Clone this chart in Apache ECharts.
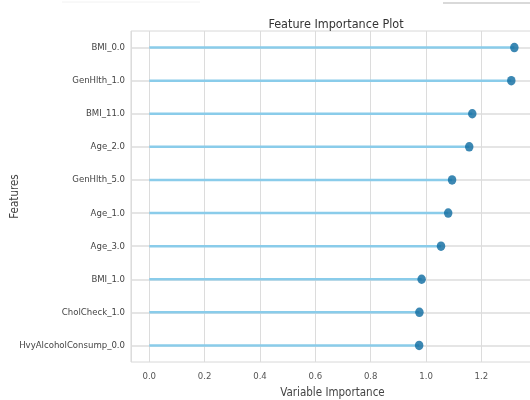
<!DOCTYPE html>
<html>
<head>
<meta charset="utf-8">
<script src="https://cdn.jsdelivr.net/npm/echarts@6/dist/echarts.min.js"></script>
<style>html,body{margin:0;padding:0;background:#fff;}#c{width:530px;height:400px;}</style>
</head>
<body>
<div id="c"></div>
<script>
const features = ['BMI_0.0','GenHlth_1.0','BMI_11.0','Age_2.0','GenHlth_5.0','Age_1.0','Age_3.0','BMI_1.0','CholCheck_1.0','HvyAlcoholConsump_0.0'];
const importance = [1.319, 1.308, 1.167, 1.156, 1.094, 1.080, 1.054, 0.984, 0.976, 0.975];
const titleText = 'Feature Importance Plot';
const xName = 'Variable Importance';
const yName = 'Features';

const FONT = "'Liberation Sans Narrow', 'Arial Narrow', 'DejaVu Sans Condensed', 'Liberation Sans', Arial, sans-serif";
// pick a label size so the longest label is about as wide as in the reference (~101px)
const cv = document.createElement('canvas').getContext('2d');
cv.font = '11px ' + FONT;
const wLong = cv.measureText('HvyAlcoholConsump_0.0').width;
const LBL = Math.max(9.5, Math.min(11, 11 * 102 / wLong));

const chart = echarts.init(document.getElementById('c'), null, {renderer: 'canvas'});
chart.setOption({
  animation: false,
  backgroundColor: '#ffffff',
  title: {
    text: titleText, left: 331, top: 13, textAlign: 'center',
    textStyle: {fontFamily: FONT, fontSize: 12.5, fontWeight: 'normal', color: '#333'}
  },
  grid: {left: 131, top: 31, width: 403, height: 331, containLabel: false,
         outerBoundsMode: 'none',
         show: true, borderColor: '#d8d8d8', borderWidth: 1, backgroundColor: '#fff'},
  xAxis: {
    type: 'value', min: -0.066, max: 1.39, splitNumber: 8,
    name: xName, nameLocation: 'middle', nameGap: 25, nameMoveOverlap: false,
    nameTextStyle: {fontFamily: FONT, fontSize: 11.5, color: '#444'},
    axisLine: {show: false}, axisTick: {show: false},
    axisLabel: {fontFamily: FONT, fontSize: LBL, color: '#555', margin: 10,
                showMinLabel: false, showMaxLabel: false,
                formatter: v => v.toFixed(1)},
    splitLine: {show: true, lineStyle: {color: '#dcdcdc', width: 1}}
  },
  yAxis: {
    type: 'category', data: features, inverse: true,
    name: yName, nameLocation: 'middle', nameGap: 110, nameRotate: 90, nameMoveOverlap: false,
    nameTextStyle: {fontFamily: FONT, fontSize: 11.5, color: '#444'},
    axisLine: {show: false}, axisTick: {show: false},
    axisLabel: {fontFamily: FONT, fontSize: LBL, color: '#444', margin: 6},
    splitLine: {show: false}
  },
  series: [
    {
      type: 'scatter', data: [], z: 1, silent: true,
      markLine: {
        silent: true, symbol: 'none', z: 1, label: {show: false},
        lineStyle: {color: '#dcdcdc', width: 1.5, type: 'solid'},
        emphasis: {disabled: true},
        data: features.map(f => ({yAxis: f}))
      }
    },
    {
      type: 'bar', data: importance, barWidth: 2.5, z: 2, silent: true,
      itemStyle: {color: '#8accea'}
    },
    {
      type: 'scatter', data: importance, z: 3, symbol: 'circle', symbolSize: [8.5, 9.5],
      itemStyle: {color: '#0b6aa0'}
    }
  ],
  graphic: [
    {type: 'line', shape: {x1: 443, y1: 3, x2: 530, y2: 3}, style: {stroke: '#cccccc', lineWidth: 1.5}},
    {type: 'line', shape: {x1: 62, y1: 2, x2: 200, y2: 2}, style: {stroke: '#f2f2f2', lineWidth: 1}}
  ]
});
</script>
</body>
</html>
